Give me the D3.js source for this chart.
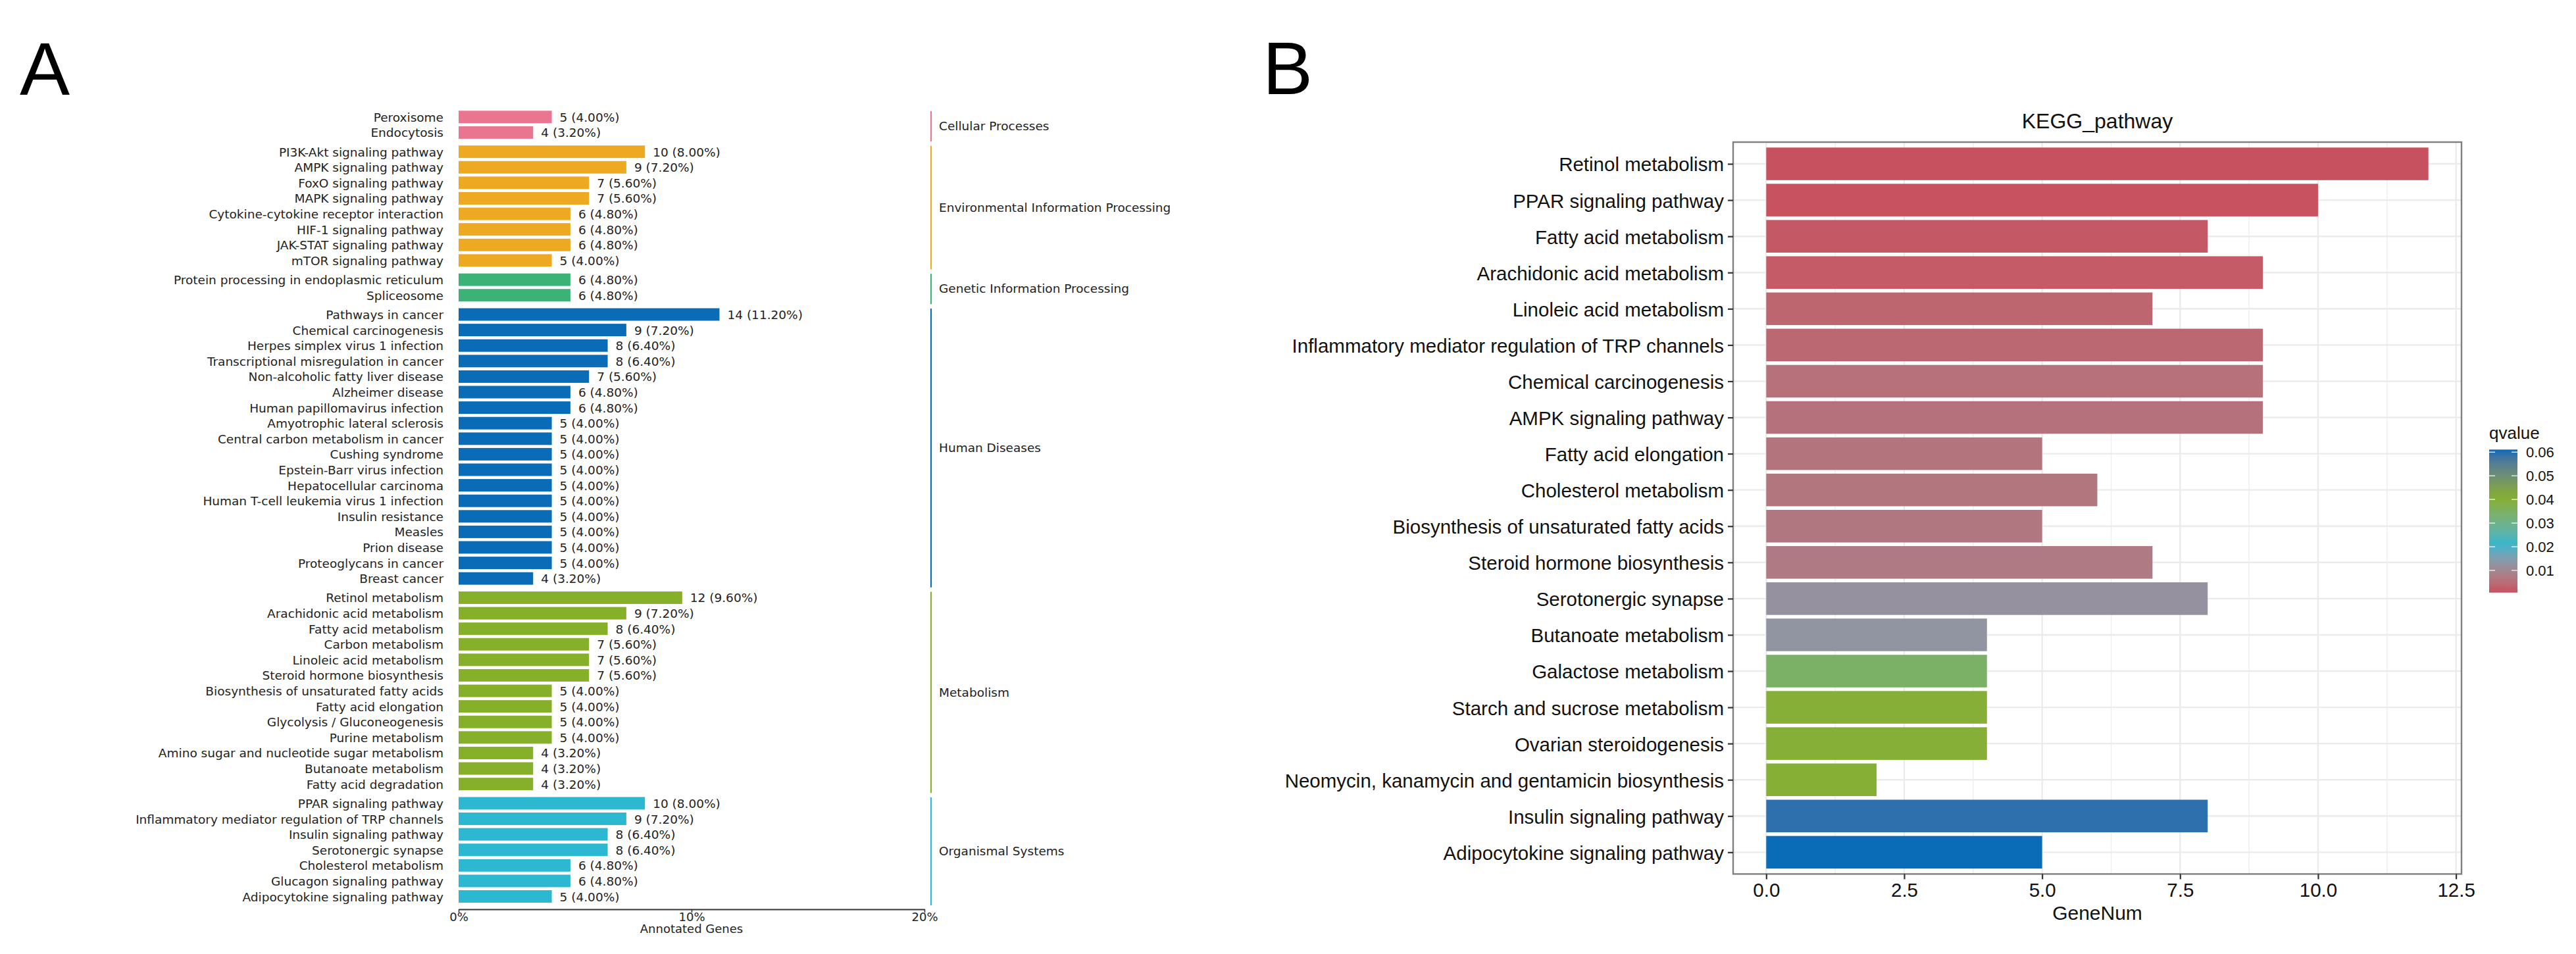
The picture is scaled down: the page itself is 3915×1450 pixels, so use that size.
<!DOCTYPE html>
<html>
<head>
<meta charset="utf-8">
<script src="https://cdn.jsdelivr.net/npm/d3@7"></script>
<style>
  body { margin: 0; background: #fff; }
</style>
</head>
<body>
<svg id="fig" width="3915" height="1450"></svg>
<script>
// ---- Panel A data: KEGG classification ----
const groupsA = ["Cellular Processes", "Environmental Information Processing",
  "Genetic Information Processing", "Human Diseases", "Metabolism", "Organismal Systems"];
const groupColorsA = ["#e97590", "#eca921", "#3bb377", "#0a6bb7", "#86b02a", "#2cb8d0"];

const termsA = [
  "Peroxisome", "Endocytosis",
  "PI3K-Akt signaling pathway", "AMPK signaling pathway", "FoxO signaling pathway",
  "MAPK signaling pathway", "Cytokine-cytokine receptor interaction", "HIF-1 signaling pathway",
  "JAK-STAT signaling pathway", "mTOR signaling pathway",
  "Protein processing in endoplasmic reticulum", "Spliceosome",
  "Pathways in cancer", "Chemical carcinogenesis", "Herpes simplex virus 1 infection",
  "Transcriptional misregulation in cancer", "Non-alcoholic fatty liver disease",
  "Alzheimer disease", "Human papillomavirus infection", "Amyotrophic lateral sclerosis",
  "Central carbon metabolism in cancer", "Cushing syndrome", "Epstein-Barr virus infection",
  "Hepatocellular carcinoma", "Human T-cell leukemia virus 1 infection", "Insulin resistance",
  "Measles", "Prion disease", "Proteoglycans in cancer", "Breast cancer",
  "Retinol metabolism", "Arachidonic acid metabolism", "Fatty acid metabolism",
  "Carbon metabolism", "Linoleic acid metabolism", "Steroid hormone biosynthesis",
  "Biosynthesis of unsaturated fatty acids", "Fatty acid elongation",
  "Glycolysis / Gluconeogenesis", "Purine metabolism",
  "Amino sugar and nucleotide sugar metabolism", "Butanoate metabolism", "Fatty acid degradation",
  "PPAR signaling pathway", "Inflammatory mediator regulation of TRP channels",
  "Insulin signaling pathway", "Serotonergic synapse", "Cholesterol metabolism",
  "Glucagon signaling pathway", "Adipocytokine signaling pathway"
];
const countsA = [
  5, 4,
  10, 9, 7, 7, 6, 6, 6, 5,
  6, 6,
  14, 9, 8, 8, 7, 6, 6, 5, 5, 5, 5, 5, 5, 5, 5, 5, 5, 4,
  12, 9, 8, 7, 7, 7, 5, 5, 5, 5, 4, 4, 4,
  10, 9, 8, 8, 6, 6, 5
];
const groupIdxA = [
  0, 0,
  1, 1, 1, 1, 1, 1, 1, 1,
  2, 2,
  3, 3, 3, 3, 3, 3, 3, 3, 3, 3, 3, 3, 3, 3, 3, 3, 3, 3,
  4, 4, 4, 4, 4, 4, 4, 4, 4, 4, 4, 4, 4,
  5, 5, 5, 5, 5, 5, 5
];
const totalGenesA = 125;
const xTicksA = [0, 10, 20];

// ---- Panel B data: enriched KEGG pathways ----
const termsB = [
  "Retinol metabolism", "PPAR signaling pathway", "Fatty acid metabolism",
  "Arachidonic acid metabolism", "Linoleic acid metabolism",
  "Inflammatory mediator regulation of TRP channels", "Chemical carcinogenesis",
  "AMPK signaling pathway", "Fatty acid elongation", "Cholesterol metabolism",
  "Biosynthesis of unsaturated fatty acids", "Steroid hormone biosynthesis",
  "Serotonergic synapse", "Butanoate metabolism", "Galactose metabolism",
  "Starch and sucrose metabolism", "Ovarian steroidogenesis",
  "Neomycin, kanamycin and gentamicin biosynthesis", "Insulin signaling pathway",
  "Adipocytokine signaling pathway"
];
const geneNumB = [12, 10, 8, 9, 7, 9, 9, 9, 5, 6, 5, 7, 8, 4, 4, 4, 4, 2, 8, 5];
const qvalueB = [0.0006, 0.0007, 0.0018, 0.002, 0.0038, 0.0042, 0.0058, 0.006, 0.0064, 0.0066,
  0.0068, 0.0074, 0.0122, 0.0128, 0.0345, 0.0398, 0.0399, 0.04, 0.0596, 0.0611];
const xTicksB = [0, 2.5, 5, 7.5, 10, 12.5];
const xMinorB = [1.25, 3.75, 6.25, 8.75, 11.25];
const legendTicksB = [0.01, 0.02, 0.03, 0.04, 0.05, 0.06];
const paletteB = ["#c8515f", "#2cb6d0", "#86af2a", "#0a6bb6"];

// -------------------------------------------------------
const svg = d3.select("#fig");
svg.append("rect").attr("width", 3915).attr("height", 1450).attr("fill", "#fff");

const letterFont = "Liberation Sans, Arial, sans-serif";
svg.append("text").attr("x", 30).attr("y", 144)
  .attr("font-family", letterFont).attr("font-size", 114).text("A");
svg.append("text").attr("x", 1919).attr("y", 143)
  .attr("font-family", letterFont).attr("font-size", 114).text("B");

// ===== Panel A =====
const fontA = "DejaVu Sans, sans-serif";
const fsA = 18.5;
const gA = svg.append("g").attr("font-family", fontA).attr("font-size", fsA).attr("fill", "#222");

const GAP = 0.24;          // extra space between groups, in rows
const barH = 19;
const slotA = termsA.map((t, i) => i + groupIdxA[i] * GAP);
const lastSlot = d3.max(slotA);
const yA = d3.scaleLinear().domain([0, lastSlot]).range([168.3, 168.3 + lastSlot * 23.6]);
const xA = d3.scaleLinear().domain([0, 20]).range([697, 1405]);
const pct = n => n / totalGenesA * 100;

gA.selectAll(".barA").data(termsA).enter()
  .append("rect")
  .attr("class", "barA")
  .attr("x", xA(0))
  .attr("y", (d, i) => yA(slotA[i]))
  .attr("width", (d, i) => xA(pct(countsA[i])) - xA(0))
  .attr("height", barH)
  .attr("fill", (d, i) => groupColorsA[groupIdxA[i]]);

gA.selectAll(".labA").data(termsA).enter()
  .append("text")
  .attr("x", xA(0) - 23)
  .attr("y", (d, i) => yA(slotA[i]) + barH / 2)
  .attr("dy", "0.38em")
  .attr("text-anchor", "end")
  .text(d => d);

gA.selectAll(".valA").data(termsA).enter()
  .append("text")
  .attr("x", (d, i) => xA(pct(countsA[i])) + 12)
  .attr("y", (d, i) => yA(slotA[i]) + barH / 2)
  .attr("dy", "0.38em")
  .text((d, i) => `${countsA[i]} (${pct(countsA[i]).toFixed(2)}%)`);

// group brackets on the right
const groupRange = groupsA.map((g, k) => {
  const s = slotA.filter((v, i) => groupIdxA[i] === k);
  return [d3.min(s), d3.max(s)];
});
const lineX = 1415;
gA.selectAll(".grpLine").data(groupsA).enter()
  .append("line")
  .attr("x1", lineX).attr("x2", lineX)
  .attr("y1", (d, k) => yA(groupRange[k][0]) + 0.5)
  .attr("y2", (d, k) => yA(groupRange[k][1]) + 23)
  .attr("stroke", (d, k) => groupColorsA[k])
  .attr("stroke-width", 2.2);

gA.selectAll(".grpLab").data(groupsA).enter()
  .append("text")
  .attr("x", lineX + 12)
  .attr("y", (d, k) => (yA(groupRange[k][0]) + yA(groupRange[k][1]) + 23) / 2)
  .attr("dy", "0.35em")
  .text(d => d);

const axA = gA.append("g")
  .attr("transform", "translate(0,1382)")
  .call(d3.axisBottom(xA).tickValues(xTicksA).tickFormat(d => d + "%")
    .tickSize(5).tickSizeOuter(0).tickPadding(0));
axA.select(".domain").attr("stroke", "#333").attr("stroke-width", 2.2);
axA.selectAll(".tick line").attr("stroke", "#333").attr("stroke-width", 1.5);
axA.selectAll(".tick text").attr("font-family", fontA).attr("font-size", 18).attr("fill", "#222");

gA.append("text")
  .attr("x", (xA(0) + xA(20)) / 2)
  .attr("y", 1418)
  .attr("text-anchor", "middle")
  .attr("font-size", 18)
  .text("Annotated Genes");

// ===== Panel B =====
const fontB = "Liberation Sans, Arial, sans-serif";
const gB = svg.append("g").attr("font-family", fontB);

const panel = { left: 2634, right: 3741, top: 216, bottom: 1328.4 };
const xB = d3.scaleLinear().domain([-0.6, 12.6]).range([panel.left, panel.right]);
const yB = d3.scalePoint().domain(termsB).range([panel.top, panel.bottom]).padding(0.6);

const qMin = d3.min(qvalueB), qMax = d3.max(qvalueB);
const colorB = d3.scaleLinear()
  .domain(d3.range(paletteB.length).map(k => qMin + (qMax - qMin) * k / (paletteB.length - 1)))
  .range(paletteB)
  .interpolate(d3.interpolateLab);

// grid
gB.selectAll(".minor").data(xMinorB).enter()
  .append("line")
  .attr("x1", d => xB(d)).attr("x2", d => xB(d))
  .attr("y1", panel.top).attr("y2", panel.bottom)
  .attr("stroke", "#eeeeee").attr("stroke-width", 1.4);
gB.selectAll(".majorX").data(xTicksB).enter()
  .append("line")
  .attr("x1", d => xB(d)).attr("x2", d => xB(d))
  .attr("y1", panel.top).attr("y2", panel.bottom)
  .attr("stroke", "#ebebeb").attr("stroke-width", 2.4);
gB.selectAll(".majorY").data(termsB).enter()
  .append("line")
  .attr("x1", panel.left).attr("x2", panel.right)
  .attr("y1", d => yB(d)).attr("y2", d => yB(d))
  .attr("stroke", "#ebebeb").attr("stroke-width", 2.4);

// bars
const bh = yB.step() * 0.9;
gB.selectAll(".barB").data(termsB).enter()
  .append("rect")
  .attr("x", xB(0))
  .attr("y", d => yB(d) - bh / 2)
  .attr("width", (d, i) => xB(geneNumB[i]) - xB(0))
  .attr("height", bh)
  .attr("fill", (d, i) => colorB(qvalueB[i]));

// panel border
gB.append("rect")
  .attr("x", panel.left).attr("y", panel.top)
  .attr("width", panel.right - panel.left).attr("height", panel.bottom - panel.top)
  .attr("fill", "none").attr("stroke", "#7f7f7f").attr("stroke-width", 2.4);

const fsB = 29.5;
const axYB = gB.append("g")
  .attr("transform", `translate(${panel.left},0)`)
  .call(d3.axisLeft(yB).tickSize(8).tickPadding(6));
axYB.select(".domain").remove();
axYB.selectAll(".tick line").attr("stroke", "#333").attr("stroke-width", 2.2);
axYB.selectAll(".tick text").attr("font-family", fontB).attr("font-size", fsB)
  .attr("fill", "#111").attr("dy", "0.37em");

const axXB = gB.append("g")
  .attr("transform", `translate(0,${panel.bottom})`)
  .call(d3.axisBottom(xB).tickValues(xTicksB).tickFormat(d3.format(".1f"))
    .tickSize(8).tickPadding(6));
axXB.select(".domain").remove();
axXB.selectAll(".tick line").attr("stroke", "#333").attr("stroke-width", 2.2);
axXB.selectAll(".tick text").attr("font-family", fontB).attr("font-size", fsB).attr("fill", "#111");

gB.append("text")
  .attr("x", (panel.left + panel.right) / 2).attr("y", 1398)
  .attr("text-anchor", "middle").attr("font-size", 30).attr("fill", "#111")
  .text("GeneNum");

gB.append("text")
  .attr("x", (panel.left + panel.right) / 2).attr("y", 195)
  .attr("text-anchor", "middle").attr("font-size", 32).attr("fill", "#111")
  .text("KEGG_pathway");

// colour bar legend
const bar = { x: 3783, w: 43, top: 683.3, bottom: 900.7 };
const yLeg = d3.scaleLinear().domain([qMin, qMax]).range([bar.bottom, bar.top]);

const grad = svg.append("defs").append("linearGradient")
  .attr("id", "qgrad").attr("x1", 0).attr("y1", 1).attr("x2", 0).attr("y2", 0);
grad.selectAll("stop").data(d3.range(0, 1.0001, 0.05)).enter()
  .append("stop")
  .attr("offset", d => d)
  .attr("stop-color", d => colorB(qMin + d * (qMax - qMin)));

gB.append("text")
  .attr("x", bar.x).attr("y", 666.7)
  .attr("font-size", 26).attr("fill", "#111")
  .text("qvalue");

gB.append("rect")
  .attr("x", bar.x).attr("y", bar.top)
  .attr("width", bar.w).attr("height", bar.bottom - bar.top)
  .attr("fill", "url(#qgrad)");

const legTicks = gB.selectAll(".legTick").data(legendTicksB).enter().append("g");
legTicks.append("line")
  .attr("x1", bar.x).attr("x2", bar.x + 9)
  .attr("y1", d => yLeg(d)).attr("y2", d => yLeg(d))
  .attr("stroke", "#fff").attr("stroke-opacity", 0.8).attr("stroke-width", 1.5);
legTicks.append("line")
  .attr("x1", bar.x + bar.w - 9).attr("x2", bar.x + bar.w)
  .attr("y1", d => yLeg(d)).attr("y2", d => yLeg(d))
  .attr("stroke", "#fff").attr("stroke-opacity", 0.8).attr("stroke-width", 1.5);
legTicks.append("text")
  .attr("x", bar.x + bar.w + 13)
  .attr("y", d => yLeg(d))
  .attr("dy", "0.36em")
  .attr("font-size", 22).attr("fill", "#111")
  .text(d => d3.format(".2f")(d));
</script>
</body>
</html>
